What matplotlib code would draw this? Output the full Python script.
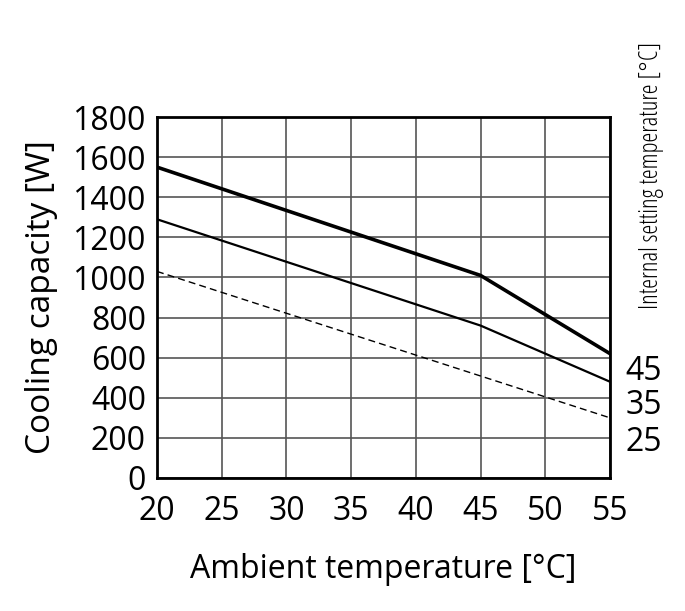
import matplotlib
matplotlib.use("Agg")
import matplotlib.pyplot as plt

plt.rcParams["font.family"] = "Open Sans"

temps_45 = [20, 45, 55]
cap_45 = [1550, 1010, 620]
temps_35 = [20, 45, 55]
cap_35 = [1290, 760, 480]
temps_25 = [20, 55]
cap_25 = [1030, 300]
xticks = [20, 25, 30, 35, 40, 45, 50, 55]
yticks = [0, 200, 400, 600, 800, 1000, 1200, 1400, 1600, 1800]

fig = plt.figure(figsize=(6.85, 6.11), dpi=100)
ax = fig.add_axes([157/685, 1-478/611, (610-157)/685, (478-117)/611])
ax.plot(temps_45, cap_45, color="black", lw=2.6)
ax.plot(temps_35, cap_35, color="black", lw=1.6)
ax.plot(temps_25, cap_25, color="black", lw=1.0, ls=(0, (5, 3)))
ax.set_xlim(20, 55)
ax.set_ylim(0, 1800)
ax.set_xticks(xticks)
ax.set_yticks(yticks)
ax.grid(True, color="#555555", lw=1.2)
for s in ax.spines.values():
    s.set_linewidth(2)
ax.tick_params(axis="both", labelsize=23, length=0)
ax.tick_params(axis="x", pad=12)
ax.tick_params(axis="y", pad=8)
ax.set_xlabel("Ambient temperature [°C]", fontsize=23, labelpad=18)
ax.set_ylabel("Cooling capacity [W]", fontsize=24, labelpad=10)
ax.text(1.035, 530, "45", transform=ax.get_yaxis_transform(), fontsize=23, va="center")
ax.text(1.035, 360, "35", transform=ax.get_yaxis_transform(), fontsize=23, va="center")
ax.text(1.035, 175, "25", transform=ax.get_yaxis_transform(), fontsize=23, va="center")
fig.text(652/685, 1-175/611, "Internal setting temperature [°C]", rotation=90,
         fontsize=18, ha="center", va="center", fontstretch="condensed")
fig.savefig("out.png", dpi=100)
